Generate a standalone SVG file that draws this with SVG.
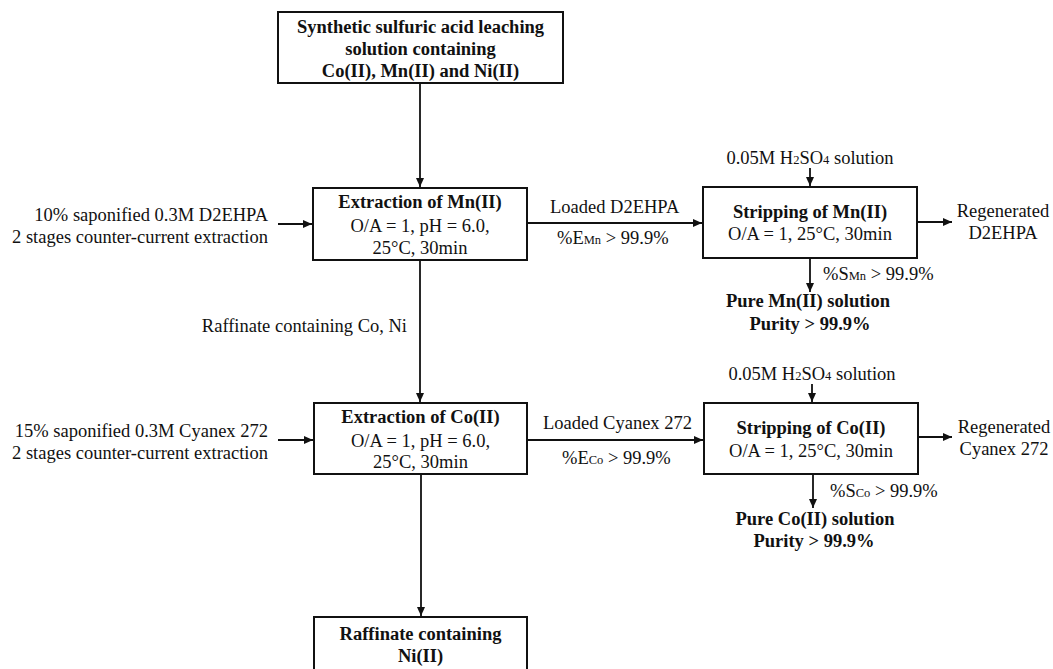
<svg xmlns="http://www.w3.org/2000/svg" width="1053" height="669" viewBox="0 0 1053 669">
<style>
text{font-family:"Liberation Serif","Times New Roman",serif;font-size:18.5px;fill:#111}
.b{font-weight:bold}
.m{text-anchor:middle}
.e{text-anchor:end}
.box{fill:#fff;stroke:#111;stroke-width:2}
.c{stroke:#111;stroke-width:1.8;fill:none}
.s{font-size:12.5px}
</style>
<defs>
<marker id="ah" markerUnits="userSpaceOnUse" markerWidth="10" markerHeight="9" refX="9" refY="4" orient="auto">
<path d="M0,0 L9,4 L0,8 z" fill="#111"/>
</marker>
</defs>
<g id="connectors">
<line class="c" x1="420" y1="83" x2="420" y2="187" marker-end="url(#ah)"/>
<line class="c" x1="278" y1="224" x2="312" y2="224" marker-end="url(#ah)"/>
<line class="c" x1="527" y1="223" x2="702" y2="223" marker-end="url(#ah)"/>
<line class="c" x1="810" y1="168" x2="810" y2="186" marker-end="url(#ah)"/>
<line class="c" x1="917" y1="222" x2="952" y2="222" marker-end="url(#ah)"/>
<line class="c" x1="810" y1="258" x2="810" y2="292" marker-end="url(#ah)"/>
<line class="c" x1="420" y1="260" x2="420" y2="402" marker-end="url(#ah)"/>
<line class="c" x1="278" y1="440" x2="313" y2="440" marker-end="url(#ah)"/>
<line class="c" x1="527" y1="440" x2="703" y2="440" marker-end="url(#ah)"/>
<line class="c" x1="812" y1="384" x2="812" y2="402" marker-end="url(#ah)"/>
<line class="c" x1="918" y1="437" x2="952" y2="437" marker-end="url(#ah)"/>
<line class="c" x1="813" y1="474" x2="813" y2="508" marker-end="url(#ah)"/>
<line class="c" x1="421" y1="474" x2="421" y2="616" marker-end="url(#ah)"/>
<text class="e" x="268" y="221">10% saponified 0.3M D2EHPA</text>
<text class="e" x="268" y="243">2 stages counter-current extraction</text>
<text x="550" y="213">Loaded D2EHPA</text>
<text x="557" y="244">%E<tspan class="s">Mn</tspan> &gt; 99.9%</text>
<text class="m" x="810" y="164">0.05M H<tspan class="s">2</tspan>SO<tspan class="s">4</tspan> solution</text>
<text class="m" x="1003" y="217">Regenerated</text>
<text class="m" x="1003" y="239">D2EHPA</text>
<text x="823" y="280">%S<tspan class="s">Mn</tspan> &gt; 99.9%</text>
<text class="b m" x="808" y="307">Pure Mn(II) solution</text>
<text class="b m" x="810" y="330">Purity &gt; 99.9%</text>
<text class="e" x="407" y="332">Raffinate containing Co, Ni</text>
<text class="e" x="268" y="437">15% saponified 0.3M Cyanex 272</text>
<text class="e" x="268" y="459">2 stages counter-current extraction</text>
<text x="543" y="429">Loaded Cyanex 272</text>
<text x="562" y="464">%E<tspan class="s">Co</tspan> &gt; 99.9%</text>
<text class="m" x="812" y="380">0.05M H<tspan class="s">2</tspan>SO<tspan class="s">4</tspan> solution</text>
<text class="m" x="1004" y="433">Regenerated</text>
<text class="m" x="1004" y="455">Cyanex 272</text>
<text x="830" y="497">%S<tspan class="s">Co</tspan> &gt; 99.9%</text>
<text class="b m" x="815" y="525">Pure Co(II) solution</text>
<text class="b m" x="814" y="547">Purity &gt; 99.9%</text>
</g>
<g id="feed">
<rect class="box" x="278" y="12" width="285" height="71"/>
<text class="b m" x="420.5" y="33">Synthetic sulfuric acid leaching</text>
<text class="b m" x="420.5" y="55">solution containing</text>
<text class="b m" x="420.5" y="77">Co(II), Mn(II) and Ni(II)</text>
</g>
<g id="extMn">
<rect class="box" x="313" y="188" width="214" height="72"/>
<text class="b m" x="420" y="208">Extraction of Mn(II)</text>
<text class="m" x="420" y="232">O/A = 1, pH = 6.0,</text>
<text class="m" x="420" y="254">25°C, 30min</text>
</g>
<g id="stripMn">
<rect class="box" x="703" y="187" width="214" height="71"/>
<text class="b m" x="810" y="218">Stripping of Mn(II)</text>
<text class="m" x="810" y="240">O/A = 1, 25°C, 30min</text>
</g>
<g id="extCo">
<rect class="box" x="314" y="403" width="213" height="71"/>
<text class="b m" x="420.5" y="423">Extraction of Co(II)</text>
<text class="m" x="420.5" y="447">O/A = 1, pH = 6.0,</text>
<text class="m" x="420.5" y="468">25°C, 30min</text>
</g>
<g id="stripCo">
<rect class="box" x="704" y="403" width="214" height="71"/>
<text class="b m" x="811" y="434">Stripping of Co(II)</text>
<text class="m" x="811" y="457">O/A = 1, 25°C, 30min</text>
</g>
<g id="raffNi">
<rect class="box" x="314" y="617" width="213" height="56"/>
<text class="b m" x="420.5" y="640">Raffinate containing</text>
<text class="b m" x="420.5" y="662">Ni(II)</text>
</g>
</svg>
